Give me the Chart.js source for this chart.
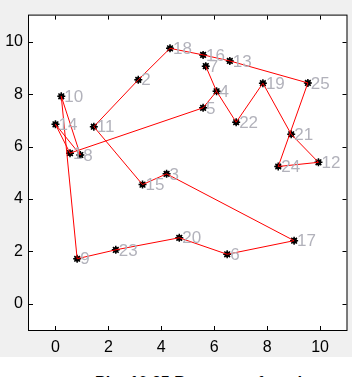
<!DOCTYPE html>
<html>
<head>
<meta charset="utf-8">
<script src="https://cdn.jsdelivr.net/npm/chart.js@4"></script>
<style>
  body { margin: 0; background: #fff; width: 357px; height: 377px; overflow: hidden; position: relative; }
  #fig { position: absolute; left: 0; top: 0; width: 352px; height: 357px; background: #f0f0f0; }
  #legenda { position: absolute; left: 95px; top: 374px; font: bold 16px "Liberation Sans", Arial, sans-serif; color: #000; white-space: nowrap; }
</style>
</head>
<body>
<div id="fig"><canvas id="grafico" width="352" height="357"></canvas></div>
<div id="legenda">Plot 10.25 Best route found</div>
<script>
// Coordenadas das cidades
const cidades = [1, 2, 3, 4, 5, 6, 7, 8, 9, 10, 11, 12, 13, 14, 15, 16, 17, 18, 19, 20, 21, 22, 23, 24, 25];
const cidadeX = [0.55, 3.13, 4.20, 6.09, 5.58, 6.49, 5.68, 0.94, 0.82, 0.22, 1.45, 9.94, 6.59, 0.00, 3.29, 5.58, 9.02, 4.33, 7.84, 4.68, 8.91, 6.83, 2.28, 8.42, 9.54];
const cidadeY = [5.75, 8.55, 4.96, 8.11, 7.48, 1.89, 9.07, 5.68, 1.72, 7.92, 6.76, 5.40, 9.27, 6.85, 4.55, 9.50, 2.41, 9.75, 8.42, 2.52, 6.47, 6.93, 2.06, 5.24, 8.43];

// Ordem da rota desenhada em vermelho
const rota = [7, 4, 22, 19, 21, 12, 24, 25, 13, 16, 18, 2, 11, 15, 3, 17, 6, 20, 23, 9, 10, 8, 14, 1, 5, 4];

const ticksX = [0, 2, 4, 6, 8, 10];
const ticksY = [0, 2, 4, 6, 8, 10];

const pontos = cidades.map((c, i) => ({ x: cidadeX[i], y: cidadeY[i] }));
const caminho = rota.map(c => ({ x: cidadeX[c - 1], y: cidadeY[c - 1] }));

const fonte = { family: '"Liberation Sans", Arial, sans-serif', size: 16 };

// Fundo branco só na área do gráfico
const fundoBranco = {
    id: 'fundoBranco',
    beforeDraw(chart) {
        const { ctx, chartArea: a } = chart;
        ctx.save();
        ctx.fillStyle = '#fff';
        ctx.fillRect(a.left, a.top, a.right - a.left, a.bottom - a.top);
        ctx.restore();
    }
};

// Moldura e tracinhos para dentro, estilo MATLAB
const moldura = {
    id: 'moldura',
    afterDraw(chart) {
        const { ctx, chartArea: a, scales } = chart;
        ctx.save();
        ctx.strokeStyle = '#000';
        ctx.lineWidth = 1;
        ctx.strokeRect(a.left - 0.5, a.top - 0.5, a.right - a.left + 1, a.bottom - a.top + 1);
        ctx.beginPath();
        ticksX.forEach(v => {
            const px = Math.round(scales.x.getPixelForValue(v)) + 0.5;
            ctx.moveTo(px, a.bottom); ctx.lineTo(px, a.bottom - 4);
            ctx.moveTo(px, a.top); ctx.lineTo(px, a.top + 4);
        });
        ticksY.forEach(v => {
            const py = Math.round(scales.y.getPixelForValue(v)) + 0.5;
            ctx.moveTo(a.left, py); ctx.lineTo(a.left + 4, py);
            ctx.moveTo(a.right, py); ctx.lineTo(a.right - 4, py);
        });
        ctx.stroke();
        ctx.restore();
    }
};

// Números das cidades em cinza ao lado de cada ponto
const rotulos = {
    id: 'rotulos',
    afterDatasetsDraw(chart) {
        const { ctx, scales } = chart;
        ctx.save();
        ctx.font = '17px ' + fonte.family;
        ctx.fillStyle = '#b2b2bb';
        ctx.textAlign = 'left';
        ctx.textBaseline = 'middle';
        cidades.forEach((c, i) => {
            const px = scales.x.getPixelForValue(cidadeX[i]);
            const py = scales.y.getPixelForValue(cidadeY[i]);
            ctx.fillText(String(c), px + 3, py + 1);
        });
        ctx.restore();
    }
};

new Chart(document.getElementById('grafico'), {
    type: 'scatter',
    data: {
        datasets: [
            {
                data: caminho,
                showLine: true,
                borderColor: '#ff0000',
                borderWidth: 1,
                pointRadius: 0,
                fill: false,
                tension: 0
            },
            {
                data: pontos,
                pointStyle: 'star',
                pointRadius: 4,
                pointBorderWidth: 1.5,
                pointBorderColor: '#000',
                pointBackgroundColor: '#000',
                showLine: false
            },
            {
                data: pontos,
                pointStyle: 'circle',
                pointRadius: 2.8,
                pointBorderWidth: 0,
                pointBackgroundColor: '#000',
                showLine: false
            }
        ]
    },
    options: {
        responsive: false,
        animation: false,
        devicePixelRatio: 1,
        layout: { padding: { top: 12, right: 4, left: 0, bottom: 0 } },
        plugins: { legend: { display: false }, tooltip: { enabled: false } },
        scales: {
            x: {
                type: 'linear',
                min: -1,
                max: 11,
                grid: { display: false, drawTicks: false },
                border: { display: false },
                afterBuildTicks: s => { s.ticks = ticksX.map(v => ({ value: v })); },
                afterFit: s => { s.height = 27; },
                ticks: { color: '#000', font: fonte, padding: 8, maxRotation: 0 }
            },
            y: {
                type: 'linear',
                min: -1,
                max: 11,
                grid: { display: false, drawTicks: false },
                border: { display: false },
                afterBuildTicks: s => { s.ticks = ticksY.map(v => ({ value: v })); },
                afterFit: s => { s.width = 29; },
                ticks: { color: '#000', font: fonte, padding: 6 }
            }
        }
    },
    plugins: [fundoBranco, moldura, rotulos]
});
</script>
</body>
</html>
